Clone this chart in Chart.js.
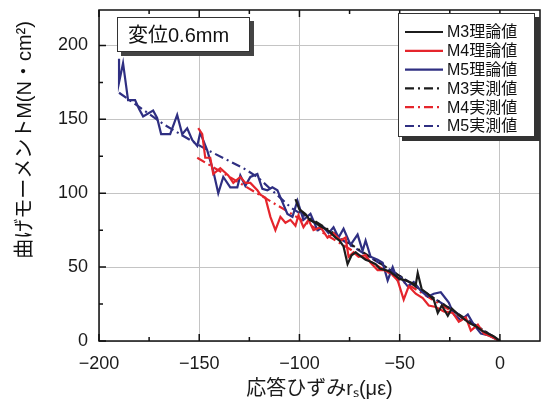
<!DOCTYPE html>
<html>
<head>
<meta charset="utf-8">
<script src="https://cdn.jsdelivr.net/npm/chart.js@4.4.1/dist/chart.umd.min.js"></script>
<style>
  html, body { margin: 0; padding: 0; background: #fff; }
  #wrap { width: 542px; height: 410px; }
</style>
</head>
<body>
<div id="wrap"><canvas id="momentchart"></canvas></div>
<script>
// 応答ひずみ (x) / 曲げモーメント (y)
const m3TheoryX = [-102, -100, -97, -95, -92, -90, -87, -85, -82, -80, -78, -76, -74, -72, -70, -67, -65, -62, -60, -57, -55, -52, -50, -47, -45, -42, -41, -39, -36, -33, -31, -29, -26, -24, -21, -18, -15, -12, -9, -6, -3, 0];
const m3TheoryY = [96, 89, 86, 82, 80, 78, 76, 74, 70, 68, 64, 52, 58, 60, 58, 55, 54, 52, 49, 48, 47, 44, 42, 41, 40, 38, 46, 35, 32, 28, 19, 24, 17, 22, 18, 15, 12, 10, 7, 5, 3, 0];

const m4TheoryX = [-150.5, -148.5, -147, -144.5, -143, -139.5, -135.5, -133, -129.5, -127, -124.5, -121, -119.5, -117, -114.5, -112, -109.5, -107, -104.5, -102, -100.5, -98, -95.5, -93, -89.5, -86, -83, -79.5, -77, -75.5, -73, -70.5, -67, -64.5, -61, -58, -54.5, -51, -48, -45.5, -42, -38.5, -35.5, -32, -28, -23.5, -20.5, -17, -14.5, -11, -8, -4.5, 0];
const m4TheoryY = [144, 140, 124, 124, 113, 117, 112, 107, 111, 107, 107, 102, 99, 97, 84, 75, 84, 80, 82, 78, 85, 77, 82, 75, 77, 70, 73, 68, 70, 57, 60, 57, 58, 53, 48, 48, 46, 41, 28, 37, 32, 29, 24, 23, 20, 19, 13, 16, 7, 11, 5, 3, 0];

const m5TheoryX = [-190, -190, -188, -185.5, -182, -180, -178, -173, -171, -169, -164.5, -161, -158.5, -156, -153.5, -151, -149.5, -146, -143, -140.5, -138, -134.5, -131, -129.5, -127, -124.5, -121, -118.5, -116, -113.5, -111, -108.5, -106, -103.5, -101, -98, -94.5, -91, -88, -85.5, -83, -80.5, -78, -74.5, -71, -68.5, -67, -64.5, -61, -58.5, -56, -53.5, -51, -49.5, -46, -43, -39.5, -36, -33, -29.5, -25.5, -23, -19.5, -16, -13, -9.5, -6, -3, 0];
const m5TheoryY = [191, 175, 188, 163, 163, 157, 152, 156, 151, 140, 140, 153, 140, 144, 136, 132, 141, 129, 115, 100, 111, 104, 104, 112, 105, 111, 113, 103, 102, 104, 102, 94, 86, 84, 95, 82, 86, 75, 77, 73, 77, 70, 76, 65, 72, 61, 68, 57, 55, 53, 41, 50, 41, 43, 37, 40, 34, 30, 32, 33, 26, 18, 14, 18, 11, 5, 4, 2, 0];

const m3MeasX = [-100, 0];
const m3MeasY = [88, 0];
const m4MeasX = [-151, -110, -60, 0];
const m4MeasY = [124, 91, 50, 0];
const m5MeasX = [-190, -167, -147, -128, -121, -104, -50, 0];
const m5MeasY = [168, 146, 130, 117, 111, 90, 44, 0];

const seriesLabels = ['M3理論値', 'M4理論値', 'M5理論値', 'M3実測値', 'M4実測値', 'M5実測値'];
const xTickMarks = [-200, -175, -150, -125, -100, -75, -50, -25, 0];
const yTickMarks = [0, 25, 50, 75, 100, 125, 150, 175, 200];

const FONT = "'Liberation Sans', 'Noto Sans CJK JP', sans-serif";
const BLACK = '#1c1c1c';
const RED = '#e5252c';
const NAVY = '#2f2f82';
const DASHDOT = [9, 4, 2, 4];

function pts(xs, ys) {
  return xs.map((x, i) => ({ x: x, y: ys[i] }));
}

function ds(label, xs, ys, color, dash) {
  return {
    label: label,
    data: pts(xs, ys),
    borderColor: color,
    backgroundColor: color,
    borderWidth: 2.2,
    borderDash: dash,
    pointRadius: 0,
    tension: 0,
    fill: false
  };
}

const fmt = v => (v < 0 ? '\u2212' + Math.abs(v) : String(v));

const decor = {
  id: 'decor',
  afterDraw(chart) {
    const { ctx, chartArea: a, scales: { x, y } } = chart;
    ctx.save();
    ctx.strokeStyle = '#111';
    ctx.lineWidth = 1.5;
    ctx.strokeRect(a.left, a.top, a.right - a.left, a.bottom - a.top);

    // inward tick marks
    ctx.lineWidth = 1.5;
    ctx.beginPath();
    xTickMarks.forEach(v => {
      const px = x.getPixelForValue(v);
      const len = v % 50 === 0 ? 7 : 4;
      ctx.moveTo(px, a.bottom); ctx.lineTo(px, a.bottom - len);
      ctx.moveTo(px, a.top); ctx.lineTo(px, a.top + len);
    });
    yTickMarks.forEach(v => {
      const py = y.getPixelForValue(v);
      const len = v % 50 === 0 ? 7 : 4;
      ctx.moveTo(a.left, py); ctx.lineTo(a.left + len, py);
    });
    ctx.stroke();

    // 変位 box
    ctx.fillStyle = '#444';
    ctx.fillRect(121, 21, 133, 35);
    ctx.fillStyle = '#fff';
    ctx.fillRect(117, 17, 133, 35);
    ctx.strokeStyle = '#333';
    ctx.lineWidth = 1;
    ctx.strokeRect(117.5, 17.5, 132, 34);
    ctx.fillStyle = '#111';
    ctx.font = '20px ' + FONT;
    ctx.textAlign = 'left';
    ctx.textBaseline = 'middle';
    ctx.fillText('変位0.6mm', 128, 36);

    // legend
    ctx.fillStyle = '#333';
    ctx.fillRect(402, 17, 138, 124);
    ctx.fillStyle = '#fff';
    ctx.fillRect(398, 13, 137, 124);
    ctx.strokeStyle = '#333';
    ctx.strokeRect(398.5, 13.5, 136, 123);
    ctx.font = '16px ' + FONT;
    chart.data.datasets.forEach((d, i) => {
      const ry = 32 + i * 18.8;
      ctx.strokeStyle = d.borderColor;
      ctx.lineWidth = 2.2;
      ctx.setLineDash(d.borderDash || []);
      ctx.beginPath();
      ctx.moveTo(405, ry); ctx.lineTo(443, ry);
      ctx.stroke();
      ctx.setLineDash([]);
      ctx.fillStyle = '#111';
      ctx.fillText(d.label, 447, ry + 1);
    });

    // y axis title
    ctx.translate(25, 140);
    ctx.rotate(-Math.PI / 2);
    ctx.textAlign = 'center';
    ctx.font = '20px ' + FONT;
    ctx.fillText('曲げモーメントM(N・cm²)', 0, 0);
    ctx.restore();
  }
};

Chart.defaults.font.family = FONT;

const ctx = document.getElementById('momentchart');

new Chart(ctx, {
  type: 'line',
  data: {
    datasets: [
      ds(seriesLabels[0], m3TheoryX, m3TheoryY, BLACK, []),
      ds(seriesLabels[1], m4TheoryX, m4TheoryY, RED, []),
      ds(seriesLabels[2], m5TheoryX, m5TheoryY, NAVY, []),
      ds(seriesLabels[3], m3MeasX, m3MeasY, BLACK, DASHDOT),
      ds(seriesLabels[4], m4MeasX, m4MeasY, RED, DASHDOT),
      ds(seriesLabels[5], m5MeasX, m5MeasY, NAVY, DASHDOT)
    ]
  },
  options: {
    responsive: true,
    maintainAspectRatio: false,
    animation: false,
    devicePixelRatio: 1,
    layout: { padding: { top: 0, right: 2, left: 0, bottom: 0 } },
    plugins: {
      legend: { display: false },
      tooltip: { enabled: false }
    },
    scales: {
      x: {
        type: 'linear',
        min: -200,
        max: 20,
        afterBuildTicks: s => { s.ticks = s.ticks.filter(t => t.value <= 0 && t.value % 50 === 0); },
        afterFit: s => { s.height = 69; },
        grid: { color: '#c4c4c4', lineWidth: 1, drawTicks: false },
        border: { display: false },
        ticks: {
          stepSize: 50,
          padding: 12,
          color: '#1a1a1a',
          font: { size: 18 },
          maxRotation: 0,
          callback: v => fmt(v)
        },
        title: {
          display: true,
          text: '応答ひずみrₛ(με)',
          color: '#1a1a1a',
          font: { size: 20 },
          padding: { top: 4, bottom: 9 }
        }
      },
      y: {
        min: 0,
        max: 224,
        afterBuildTicks: s => { s.ticks = s.ticks.filter(t => t.value <= 200 && t.value % 50 === 0); },
        afterFit: s => { s.width = 99; s.paddingTop = 10; s.paddingBottom = 0; },
        grid: { color: '#c4c4c4', lineWidth: 1, drawTicks: false },
        border: { display: false },
        ticks: {
          stepSize: 50,
          padding: 11,
          color: '#1a1a1a',
          font: { size: 18 },
          callback: v => fmt(v)
        }
      }
    }
  },
  plugins: [decor]
});
</script>
</body>
</html>
